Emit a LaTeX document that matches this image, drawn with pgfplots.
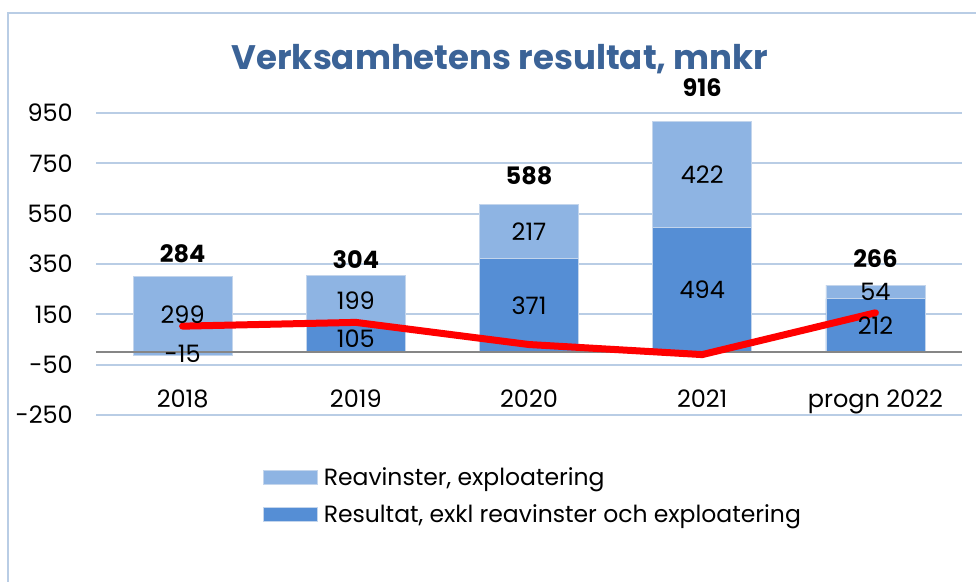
\documentclass[border=0pt]{standalone}
\usepackage{pgfplots}
\pgfplotsset{compat=1.18}
\usepackage{pgfplotstable}
\usepackage{fontspec}
\setmainfont{Poppins}
\definecolor{lightbar}{RGB}{142,180,227}
\definecolor{darkbar}{RGB}{85,142,213}
\definecolor{gridc}{RGB}{185,205,229}
\definecolor{edgec}{RGB}{195,213,236}
\definecolor{titlec}{RGB}{59,99,151}
\definecolor{framec}{RGB}{185,205,229}
\definecolor{zeroc}{RGB}{134,134,134}

\pgfplotstableread{
x dark light top midD midL total labely
0 -15 299 299 -7.5 149.5 284 390
1 105 199 304 52.5 204.5 304 366
2 371 217 588 185.5 479.5 588 702
3 494 422 916 247 705 916 1050
4 212 54 266 106 239 266 370
}\data
\pgfplotstableread{
x y
0 103
1 118
2 30
3 -10
4 156
}\redline

\begin{document}
\begin{tikzpicture}
\path[use as bounding box] (0,0) rectangle (976bp,582bp);
\draw[framec, line width=2bp] (8bp,0) -- (8bp,569bp) -- (976bp,569bp);
\node[anchor=base, font=\fontsize{34bp}{38bp}\selectfont\bfseries, text=titlec, inner sep=0pt] at (500bp,512bp) {Verksamhetens resultat, mnkr};
\begin{axis}[
  at={(96bp,167bp)}, anchor=south west, scale only axis,
  width=866bp, height=302bp,
  xmin=-0.5, xmax=4.5, ymin=-250, ymax=950,
  ytick={-250,-50,150,350,550,750,950},
  xtick={0,1,2,3,4}, xticklabels={2018,2019,2020,2021,progn 2022},
  ymajorgrids, major grid style={gridc, line width=1.8bp},
  axis line style={draw=none}, major tick length=0pt,
  /pgf/number format/assume math mode=true,
  yticklabel style={anchor=east, inner sep=0pt, xshift=-23bp},
  xticklabel style={anchor=base, inner sep=0pt, yshift=7bp},
  ticklabel style={font=\fontsize{24bp}{28bp}\selectfont},
  clip=false,
  mylegend/.style={legend image code/.code={\draw[##1, line width=0.8bp] (0bp,-7bp) rectangle (54bp,7bp); \path (60bp,0bp);}},
  legend style={at={(0.1928,-0.1740)}, anchor=north west, draw=none, fill=none,
    inner sep=0pt, outer sep=0pt, row sep=18bp,
    font=\fontsize{23.5bp}{27bp}\selectfont, nodes={inner sep=0pt}},
  legend cell align=left,
  barstyle/.style={ybar, bar width=99bp, bar shift=0pt, draw=edgec, line width=0.8bp, mylegend},
  lab/.style={draw=none, mark=none, forget plot, nodes near coords, point meta=explicit symbolic,
    every node near coord/.style={anchor=center, inner sep=0pt, text=black, font=\fontsize{24bp}{28bp}\selectfont}},
]
\addplot[barstyle, fill=lightbar] table[x=x, y=top] {\data};
\addlegendentry{Reavinster, exploatering}
\addplot[barstyle, fill=darkbar, restrict y to domain=0:5000] table[x=x, y=dark] {\data};
\addlegendentry{Resultat, exkl reavinster och exploatering}
\addplot[barstyle, fill=lightbar, restrict y to domain=-5000:0, forget plot] table[x=x, y=dark] {\data};
\draw[zeroc, line width=2bp] (axis cs:-0.5,0) -- (axis cs:4.5,0);
\addplot[red, line width=7bp, line cap=round, line join=round, mark=none, forget plot] table[x=x, y=y] {\redline};
\addplot[lab] table[x=x, y=midL, meta=light] {\data};
\addplot[lab] table[x=x, y=midD, meta=dark] {\data};
\addplot[lab, every node near coord/.append style={font=\fontsize{24bp}{28bp}\selectfont\bfseries}] table[x=x, y=labely, meta=total] {\data};
\end{axis}
\end{tikzpicture}
\end{document}
